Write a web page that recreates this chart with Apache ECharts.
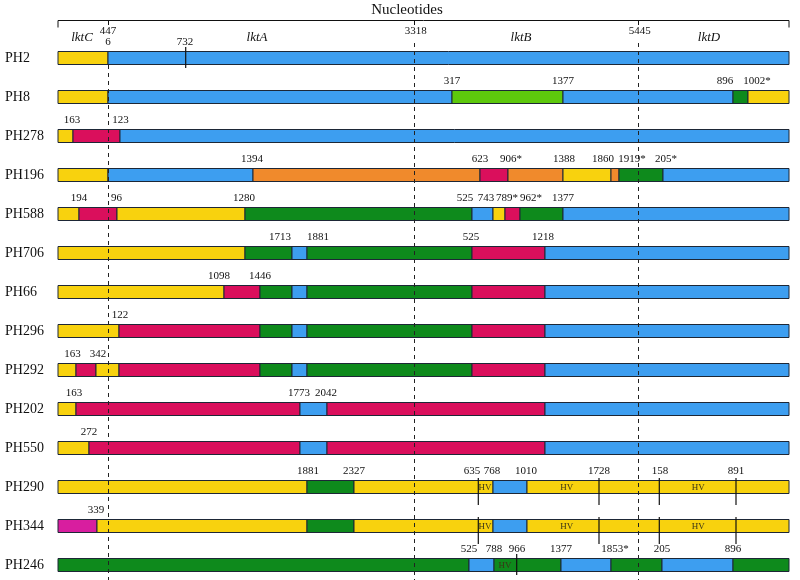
<!DOCTYPE html>
<html><head><meta charset="utf-8">
<script src="https://cdn.jsdelivr.net/npm/echarts@6/dist/echarts.min.js"></script>
<style>html,body{margin:0;padding:0;background:#fff}#c{width:800px;height:580px}</style>
</head><body><div id="c"></div>
<script>
// ---------- DATA (map units: 0 = start of lktC, 731 = end of lktD) ----------
const strains = ['PH2','PH8','PH278','PH196','PH588','PH706','PH66','PH296','PH292','PH202','PH550','PH290','PH344','PH246'];

// segments: [start, end, allele]  Y=yellow B=blue R=red G=green L=light green O=orange M=magenta
const segPH2   = [[0,50,'Y'],[50,731,'B']];
const segPH8   = [[0,50,'Y'],[50,394,'B'],[394,505,'L'],[505,675,'B'],[675,690,'G'],[690,731,'Y']];
const segPH278 = [[0,15,'Y'],[15,62,'R'],[62,731,'B']];
const segPH196 = [[0,50,'Y'],[50,195,'B'],[195,422,'O'],[422,450,'R'],[450,505,'O'],[505,553,'Y'],[553,561,'O'],[561,605,'G'],[605,731,'B']];
const segPH588 = [[0,21,'Y'],[21,59,'R'],[59,187,'Y'],[187,414,'G'],[414,435,'B'],[435,447,'Y'],[447,462,'R'],[462,505,'G'],[505,731,'B']];
const segPH706 = [[0,187,'Y'],[187,234,'G'],[234,249,'B'],[249,414,'G'],[414,487,'R'],[487,731,'B']];
const segPH66  = [[0,166,'Y'],[166,202,'R'],[202,234,'G'],[234,249,'B'],[249,414,'G'],[414,487,'R'],[487,731,'B']];
const segPH296 = [[0,61,'Y'],[61,202,'R'],[202,234,'G'],[234,249,'B'],[249,414,'G'],[414,487,'R'],[487,731,'B']];
const segPH292 = [[0,18,'Y'],[18,38,'R'],[38,61,'Y'],[61,202,'R'],[202,234,'G'],[234,249,'B'],[249,414,'G'],[414,487,'R'],[487,731,'B']];
const segPH202 = [[0,18,'Y'],[18,242,'R'],[242,269,'B'],[269,487,'R'],[487,731,'B']];
const segPH550 = [[0,31,'Y'],[31,242,'R'],[242,269,'B'],[269,487,'R'],[487,731,'B']];
const segPH290 = [[0,249,'Y'],[249,296,'G'],[296,435,'Y'],[435,469,'B'],[469,731,'Y']];
const segPH344 = [[0,39,'M'],[39,249,'Y'],[249,296,'G'],[296,435,'Y'],[435,469,'B'],[469,731,'Y']];
const segPH246 = [[0,411,'G'],[411,436,'B'],[436,503,'G'],[503,553,'B'],[553,604,'G'],[604,675,'B'],[675,731,'G']];

// breakpoint labels above each strain: [position, text]
const lblPH2   = [[50,'6'],[127,'732']];
const lblPH8   = [[394,'317'],[505,'1377'],[667,'896'],[699,'1002*']];
const lblPH278 = [[14,'163'],[62.5,'123']];
const lblPH196 = [[194,'1394'],[422,'623'],[453,'906*'],[506,'1388'],[545,'1860'],[574,'1919*'],[608,'205*']];
const lblPH588 = [[21,'194'],[58.5,'96'],[186,'1280'],[407,'525'],[428,'743'],[449,'789*'],[473,'962*'],[505,'1377']];
const lblPH706 = [[222,'1713'],[260,'1881'],[413,'525'],[485,'1218']];
const lblPH66  = [[161,'1098'],[202,'1446']];
const lblPH296 = [[62,'122']];
const lblPH292 = [[14.5,'163'],[40,'342']];
const lblPH202 = [[16,'163'],[241,'1773'],[268,'2042']];
const lblPH550 = [[31,'272']];
const lblPH290 = [[250,'1881'],[296,'2327'],[414,'635'],[434,'768'],[468,'1010'],[541,'1728'],[602,'158'],[678,'891']];
const lblPH344 = [[38,'339']];
const lblPH246 = [[411,'525'],[436,'788'],[459,'966'],[503,'1377'],[557,'1853*'],[604,'205'],[675,'896']];

// vertical tick marks: [strain index, position]
const ticks = [[0,127.7],[11,420.3],[11,541],[11,601.3],[11,678],[12,420.3],[12,541],[12,601.3],[12,678],[13,458.7]];
// hypervariable region marks: [strain index, position]
const hvMarks = [[11,427],[11,508.7],[11,640.3],[12,427],[12,508.7],[12,640.3],[13,447]];

// gene names and boundaries
const geneNames = ['lktC','lktA','lktB','lktD'];
const genePos = [24,199,463,651];
const boundaryPos = [50,356.3,580.3];
const boundaryLabels = ['447','3318','5445'];
const mapEnd = 731;
const axisTitle = 'Nucleotides';

// ---------- STYLE ----------
const alleleColors = {Y:'#F8D20E',B:'#3D9EF0',R:'#DA0F5C',G:'#0E8A1C',L:'#5DC80C',O:'#F08A2C',M:'#D81E9F'};
const serif = '"Liberation Serif","Times New Roman",serif';

const allSeg = [segPH2,segPH8,segPH278,segPH196,segPH588,segPH706,segPH66,segPH296,segPH292,segPH202,segPH550,segPH290,segPH344,segPH246];
const allLbl = [lblPH2,lblPH8,lblPH278,lblPH196,lblPH588,lblPH706,lblPH66,lblPH296,lblPH292,lblPH202,lblPH550,lblPH290,lblPH344,lblPH246];

const allelesKeys = Object.keys(alleleColors);
const barData = [];
allSeg.forEach((segs, r) => segs.forEach(s => barData.push([r, s[0], s[1], allelesKeys.indexOf(s[2])])));
const lblData = [], lblText = [];
allLbl.forEach((ls, r) => ls.forEach(l => { lblData.push([r, l[0]]); lblText.push(l[1]); }));

const chart = echarts.init(document.getElementById('c'), null, {renderer:'canvas'});
const H = 13;

chart.setOption({
  animation:false,
  backgroundColor:'#fff',
  grid:{left:58, right:11, top:38.5, height:546, outerBoundsMode:'none'},
  xAxis:{type:'value', min:0, max:mapEnd, show:false},
  yAxis:{type:'category', data:strains, inverse:true,
    axisLine:{show:false}, axisTick:{show:false}, splitLine:{show:false},
    axisLabel:{align:'left', margin:53, fontFamily:serif, fontSize:14, color:'#111'}},
  series:[
    { // bars
      type:'custom', z:2, data:barData, encode:{x:[1,2], y:0},
      renderItem(params, api){
        const r = api.value(0), a = api.coord([api.value(1), r]), b = api.coord([api.value(2), r]);
        return {type:'rect', shape:{x:a[0], y:a[1]-H/2, width:b[0]-a[0], height:H},
          style:{fill:alleleColors[allelesKeys[api.value(3)]], stroke:'#1d2736', lineWidth:1}};
      }
    },
    { // ticks
      type:'custom', z:4, data:ticks, encode:{x:1, y:0},
      renderItem(params, api){
        const p = api.coord([api.value(1), api.value(0)]);
        const big = api.value(0) === 11 || api.value(0) === 12;
        return {type:'line', shape:{x1:p[0], y1:p[1]-(big?9:11), x2:p[0], y2:p[1]+(big?18:10)},
          style:{stroke:'#111', lineWidth:1.2}};
      }
    },
    { // HV text
      type:'custom', z:5, data:hvMarks, encode:{x:1, y:0},
      renderItem(params, api){
        const p = api.coord([api.value(1), api.value(0)]);
        return {type:'text', x:p[0], y:p[1]+0.5, style:{text:'HV', fill:'#3a3418', font:'9px '+serif, align:'center', verticalAlign:'middle'}};
      }
    },
    { // breakpoint labels
      type:'custom', z:5, data:lblData, encode:{x:1, y:0},
      renderItem(params, api){
        const p = api.coord([api.value(1), api.value(0)]);
        return {type:'text', x:p[0], y:p[1]-15.5, style:{text:lblText[params.dataIndex], fill:'#111', font:'11px '+serif, align:'center', verticalAlign:'middle'}};
      }
    },
    { // header: bracket, dashed boundaries, gene names
      type:'custom', z:6, data:[[0,0]], encode:{x:0, y:1},
      renderItem(params, api){
        const xs = v => api.coord([v, 0])[0];
        const kids = [];
        const yb = 20.5;
        kids.push({type:'line', shape:{x1:xs(0), y1:yb, x2:xs(mapEnd), y2:yb}, style:{stroke:'#111', lineWidth:1}});
        kids.push({type:'line', shape:{x1:xs(0), y1:yb, x2:xs(0), y2:27.5}, style:{stroke:'#111', lineWidth:1}});
        kids.push({type:'line', shape:{x1:xs(mapEnd), y1:yb, x2:xs(mapEnd), y2:27.5}, style:{stroke:'#111', lineWidth:1}});
        boundaryPos.forEach((b, i) => {
          const x = Math.round(xs(b)) + 0.5;
          kids.push({type:'line', shape:{x1:x, y1:yb, x2:x, y2:25}, style:{stroke:'#111', lineWidth:1}});
          kids.push({type:'line', shape:{x1:x, y1:(i===0?65:43), x2:x, y2:580},
            style:{stroke:'#222', lineWidth:1, lineDash:[4,4]}});
          kids.push({type:'text', x:xs(b) + (i===0?0:1.5), y:31.5,
            style:{text:boundaryLabels[i], fill:'#111', font:'11px '+serif, align:'center', verticalAlign:'middle'}});
        });
        geneNames.forEach((g, i) => {
          kids.push({type:'text', x:xs(genePos[i]), y:38,
            style:{text:g, fill:'#111', font:'italic 13px '+serif, align:'center', verticalAlign:'middle'}});
        });
        kids.push({type:'text', x:xs(349), y:10,
          style:{text:axisTitle, fill:'#111', font:'15px '+serif, align:'center', verticalAlign:'middle'}});
        return {type:'group', children:kids};
      }
    }
  ]
});
</script></body></html>
